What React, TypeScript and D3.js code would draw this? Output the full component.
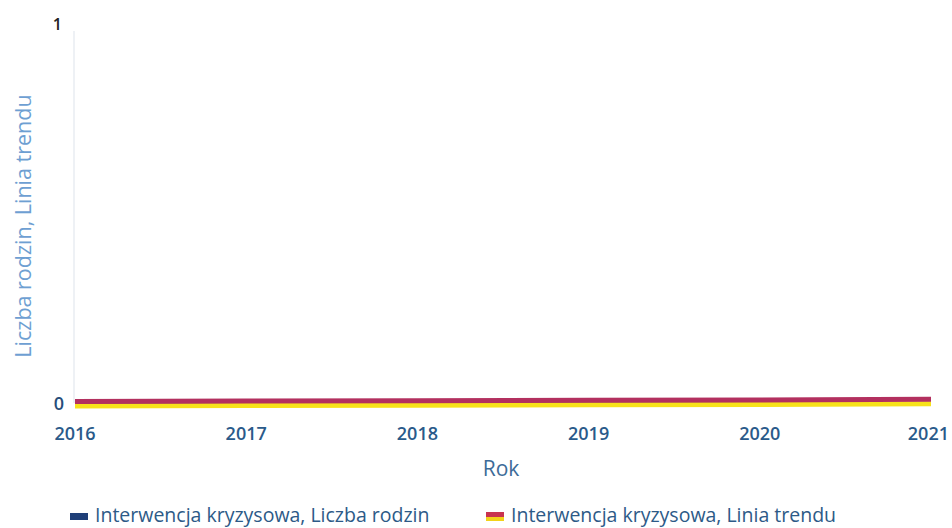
import React, { useEffect, useRef } from 'react';
import * as d3 from 'd3';

const years = [2016, 2017, 2018, 2019, 2020, 2021];
const liczbaRodzin = [0, 0, 0, 0, 0, 0];
const liniaTrendu = [0, 0.001, 0.002, 0.003, 0.004, 0.006];
const yTicks = [0, 1];
const legendLabels = ['Interwencja kryzysowa, Liczba rodzin', 'Interwencja kryzysowa, Linia trendu'];

const App: React.FC = () => {
	const svgRef = useRef<SVGSVGElement | null>(null);

	useEffect(() => {
		if (!svgRef.current) return;
		const width = 952;
		const height = 528;
		const svg = d3.select(svgRef.current);
		svg.selectAll('*').remove();
		svg.attr('width', width).attr('height', height).style('font-family', '"Open Sans", sans-serif');

		const x = d3.scaleLinear().domain([2016, 2021]).range([75, 931]);
		const y = d3.scaleLinear().domain([0, 1]).range([403, 25]);

		// oś pionowa
		svg
			.append('line')
			.attr('x1', x(2016) - 1)
			.attr('x2', x(2016) - 1)
			.attr('y1', y(1) + 6)
			.attr('y2', y(0))
			.attr('stroke', '#eef1f5')
			.attr('stroke-width', 2);

		svg
			.append('g')
			.selectAll('text')
			.data(yTicks)
			.join('text')
			.attr('x', (d) => (d === 0 ? 64 : 62))
			.attr('y', (d) => y(d) + (d === 0 ? 7 : 5))
			.attr('text-anchor', 'end')
			.attr('fill', (d) => (d === 0 ? '#264d7a' : '#222'))
			.attr('font-size', (d) => (d === 0 ? 18 : 16))
			.attr('font-weight', 600)
			.text((d) => d);

		svg
			.append('g')
			.selectAll('text')
			.data(years)
			.join('text')
			.attr('x', (d) => x(d))
			.attr('y', 440)
			.attr('text-anchor', (d) => (d === 2021 ? 'end' : 'middle'))
			.attr('dx', (d) => (d === 2021 ? 18 : 0))
			.attr('fill', '#2a5a8a')
			.attr('font-size', 18)
			.attr('font-weight', 600)
			.text((d) => d);

		svg
			.append('text')
			.attr('x', 501)
			.attr('y', 476)
			.attr('text-anchor', 'middle')
			.attr('fill', '#3d6b98')
			.attr('font-size', 21)
			.text('Rok');

		svg
			.append('text')
			.attr('transform', `translate(31, 226) rotate(-90)`)
			.attr('text-anchor', 'middle')
			.attr('fill', '#6e9fd2')
			.attr('font-size', 21.5)
			.text('Liczba rodzin, Linia trendu');

		const line = d3
			.line<number>()
			.x((_, i) => x(years[i]))
			.y((d) => y(d));

		svg
			.append('path')
			.datum(liczbaRodzin)
			.attr('d', line)
			.attr('fill', 'none')
			.attr('stroke', '#1f3f78')
			.attr('stroke-width', 2);

		// linia trendu: pas czerwony na górze, żółty na dole
		svg
			.append('path')
			.datum(liniaTrendu)
			.attr('d', line)
			.attr('transform', 'translate(0, 3)')
			.attr('fill', 'none')
			.attr('stroke', '#f7e21a')
			.attr('stroke-width', 5);
		svg
			.append('path')
			.datum(liniaTrendu)
			.attr('d', line)
			.attr('transform', 'translate(0, -1.5)')
			.attr('fill', 'none')
			.attr('stroke', '#b3305f')
			.attr('stroke-width', 5);

		const legend = svg.append('g');
		const lx = [70, 486];
		legendLabels.forEach((lab, i) => {
			const g = legend.append('g').attr('transform', `translate(${lx[i]}, 0)`);
			if (i === 0) {
				g.append('rect').attr('x', 0).attr('y', 513).attr('width', 18).attr('height', 7).attr('fill', '#1f3f78');
			} else {
				g.append('rect').attr('x', 0).attr('y', 512).attr('width', 18).attr('height', 5).attr('fill', '#c8334f');
				g.append('rect').attr('x', 0).attr('y', 517).attr('width', 18).attr('height', 4).attr('fill', '#f2d21a');
			}
			g.append('text')
				.attr('x', 25)
				.attr('y', 522)
				.attr('fill', '#2d5a87')
				.attr('font-size', 19.5)
				.text(lab);
		});
	}, []);

	return <svg ref={svgRef} style={{ display: 'block', position: 'absolute', left: 0, top: 0 }}></svg>;
};

export default App;
